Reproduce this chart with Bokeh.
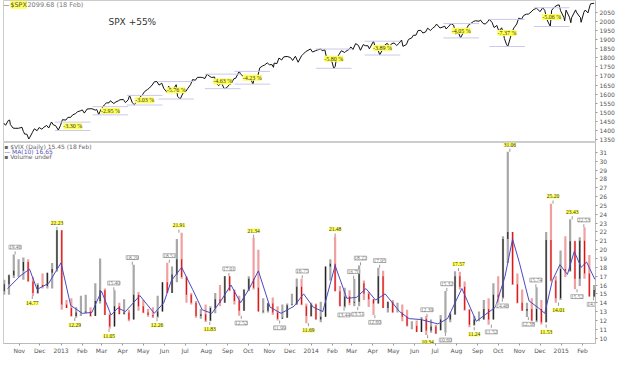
import pandas as pd
from bokeh.plotting import figure
from bokeh.layouts import column
from bokeh.models import ColumnDataSource, Range1d, FixedTicker, Label, LabelSet
from bokeh.embed import file_html
from bokeh.resources import INLINE

# ---------------- SPX (approximate closes) ----------------
spx_dates = ["2012-10-09","2012-10-12","2012-10-16","2012-10-18","2012-10-19","2012-10-23","2012-10-26","2012-10-31",
"2012-11-02","2012-11-05","2012-11-07","2012-11-09","2012-11-12","2012-11-15","2012-11-16","2012-11-20","2012-11-23",
"2012-11-27","2012-11-30","2012-12-04","2012-12-07","2012-12-11","2012-12-14","2012-12-18","2012-12-21","2012-12-24",
"2012-12-28","2012-12-31","2013-01-03","2013-01-08","2013-01-11","2013-01-15","2013-01-18","2013-01-22","2013-01-25",
"2013-01-29","2013-02-01","2013-02-04","2013-02-08","2013-02-12","2013-02-15","2013-02-20","2013-02-22","2013-02-25",
"2013-02-28","2013-03-05","2013-03-08","2013-03-12","2013-03-14","2013-03-19","2013-03-22","2013-03-26","2013-03-28",
"2013-04-02","2013-04-05","2013-04-09","2013-04-11","2013-04-15","2013-04-18","2013-04-22","2013-04-26","2013-04-30",
"2013-05-03","2013-05-07","2013-05-10","2013-05-14","2013-05-17","2013-05-21","2013-05-24","2013-05-28","2013-05-31",
"2013-06-05","2013-06-07","2013-06-11","2013-06-14","2013-06-18","2013-06-20","2013-06-24","2013-06-28","2013-07-02",
"2013-07-05","2013-07-09","2013-07-12","2013-07-16","2013-07-19","2013-07-23","2013-07-26","2013-07-30","2013-08-02",
"2013-08-06","2013-08-09","2013-08-13","2013-08-15","2013-08-19","2013-08-23","2013-08-27","2013-08-30","2013-09-04",
"2013-09-06","2013-09-10","2013-09-13","2013-09-18","2013-09-20","2013-09-24","2013-09-27","2013-10-01","2013-10-04",
"2013-10-08","2013-10-11","2013-10-15","2013-10-18","2013-10-22","2013-10-25","2013-10-29","2013-11-01","2013-11-05",
"2013-11-07","2013-11-08","2013-11-12","2013-11-15","2013-11-19","2013-11-22","2013-11-27","2013-12-02","2013-12-05",
"2013-12-09","2013-12-13","2013-12-18","2013-12-20","2013-12-24","2013-12-31","2014-01-03","2014-01-07","2014-01-10",
"2014-01-15","2014-01-17","2014-01-21","2014-01-24","2014-01-28","2014-01-31","2014-02-03","2014-02-05","2014-02-07",
"2014-02-11","2014-02-14","2014-02-19","2014-02-21","2014-02-25","2014-02-28","2014-03-03","2014-03-07","2014-03-11",
"2014-03-14","2014-03-18","2014-03-21","2014-03-25","2014-03-27","2014-04-02","2014-04-04","2014-04-08","2014-04-11",
"2014-04-15","2014-04-17","2014-04-22","2014-04-25","2014-04-29","2014-05-02","2014-05-06","2014-05-09","2014-05-13",
"2014-05-15","2014-05-20","2014-05-23","2014-05-28","2014-05-30","2014-06-03","2014-06-06","2014-06-10","2014-06-13",
"2014-06-17","2014-06-20","2014-06-24","2014-06-27","2014-07-01","2014-07-03","2014-07-08","2014-07-11","2014-07-15",
"2014-07-17","2014-07-21","2014-07-24","2014-07-28","2014-07-31","2014-08-04","2014-08-07","2014-08-11","2014-08-15",
"2014-08-19","2014-08-22","2014-08-26","2014-08-29","2014-09-03","2014-09-05","2014-09-09","2014-09-12","2014-09-16",
"2014-09-18","2014-09-22","2014-09-25","2014-09-29","2014-10-02","2014-10-06","2014-10-09","2014-10-10","2014-10-13",
"2014-10-15","2014-10-17","2014-10-21","2014-10-24","2014-10-28","2014-10-31","2014-11-04","2014-11-07","2014-11-11",
"2014-11-14","2014-11-18","2014-11-21","2014-11-26","2014-12-01","2014-12-05","2014-12-08","2014-12-10","2014-12-12",
"2014-12-16","2014-12-18","2014-12-22","2014-12-26","2014-12-29","2014-12-31","2015-01-05","2015-01-06","2015-01-08",
"2015-01-13","2015-01-15","2015-01-16","2015-01-22","2015-01-23","2015-01-27","2015-01-29","2015-01-30","2015-02-03",
"2015-02-05","2015-02-09","2015-02-12","2015-02-13","2015-02-18"]
spx_close = [1441.5,1428.6,1454.9,1457.3,1433.2,1413.1,1411.9,1412.2,
1414.2,1417.3,1394.5,1379.9,1380.0,1353.3,1359.9,1387.8,1409.2,
1398.9,1416.2,1407.0,1418.1,1427.8,1413.6,1446.8,1430.2,1426.7,
1402.4,1426.2,1459.4,1457.2,1472.1,1472.3,1485.9,1492.6,1502.9,
1507.8,1513.2,1495.7,1517.9,1519.4,1519.8,1511.9,1515.6,1487.9,
1514.7,1540.0,1551.2,1552.5,1563.2,1548.3,1556.9,1563.8,1569.2,
1570.3,1553.3,1568.6,1593.4,1552.4,1541.6,1562.5,1582.2,1597.6,
1614.4,1625.0,1633.7,1650.3,1667.5,1669.2,1649.6,1660.1,1630.7,
1608.9,1643.4,1626.1,1626.7,1651.8,1588.2,1573.1,1606.3,1614.1,
1631.9,1652.3,1680.2,1676.3,1692.1,1692.4,1691.7,1685.9,1709.7,
1697.4,1691.4,1694.2,1661.3,1646.1,1663.5,1630.5,1633.0,1653.1,
1655.2,1683.9,1687.9,1725.5,1709.9,1697.4,1691.8,1695.0,1690.5,
1655.5,1703.2,1698.1,1744.5,1754.7,1759.8,1771.9,1761.6,1762.1,
1747.2,1770.6,1767.7,1798.2,1787.9,1804.8,1807.2,1800.9,1785.0,
1808.4,1775.3,1810.7,1818.3,1833.3,1848.4,1831.4,1837.9,1842.4,
1848.4,1838.7,1843.8,1790.3,1792.5,1782.6,1741.9,1751.6,1797.0,
1819.8,1838.6,1828.8,1836.3,1845.1,1859.5,1845.7,1878.0,1867.6,
1841.1,1872.3,1866.5,1865.6,1849.0,1890.9,1865.1,1851.9,1815.7,
1842.9,1864.9,1879.6,1863.4,1878.3,1881.1,1867.7,1878.5,1897.5,
1862.8,1872.8,1900.5,1909.8,1923.6,1924.2,1949.4,1950.8,1936.2,
1941.9,1962.9,1949.9,1960.9,1973.3,1985.4,1963.7,1967.6,1973.3,
1958.1,1973.6,1987.9,1978.9,1930.7,1938.9,1909.6,1936.9,1955.1,
1981.6,1988.4,2000.0,2003.4,2000.7,2007.7,1988.4,1985.5,1998.9,
2011.4,1994.3,1966.0,1977.8,1946.2,1964.8,1928.2,1906.1,1874.7,
1862.5,1886.8,1941.3,1964.6,1985.1,2018.1,2012.1,2031.9,2039.7,
2039.8,2051.8,2063.5,2072.8,2053.4,2075.4,2060.3,2026.1,2002.3,
1972.7,2061.2,2078.5,2088.8,2090.6,2058.9,2020.6,2002.6,2062.1,
2023.0,1992.7,2019.4,2063.2,2051.8,2029.6,2021.3,1995.0,2050.0,
2062.5,2046.7,2088.5,2097.0,2099.7]

spx_ticks = [1350,1400,1450,1500,1550,1600,1650,1700,1750,1800,1850,1900,1950,2000,2050]

# drawdown annotations: label, label date, peak, trough
dd_label = ["-3.30 %","-2.95 %","-3.03 %","-5.76 %","-4.63 %","-4.23 %","-5.80 %","-3.89 %","-4.05 %","-7.37 %","-5.06 %"]
dd_date = ["2013-01-18","2013-03-14","2013-05-03","2013-06-18","2013-08-25","2013-10-07","2014-02-03","2014-04-15",
           "2014-08-08","2014-10-14","2014-12-18"]
dd_peak = [1446,1531,1593,1669,1710,1725,1848,1891,1988,2011,2075]
dd_trough = [1400,1486,1540,1573,1630,1655,1742,1815,1909,1862,1972]

# ---------------- VIX weekly OHLC ----------------
vix_week = ["2012-10-08","2012-10-15","2012-10-22","2012-10-29","2012-11-05","2012-11-12","2012-11-19","2012-11-26",
"2012-12-03","2012-12-10","2012-12-17","2012-12-24","2012-12-31","2013-01-07","2013-01-14","2013-01-21","2013-01-28",
"2013-02-04","2013-02-11","2013-02-18","2013-02-25","2013-03-04","2013-03-11","2013-03-18","2013-03-25","2013-04-01",
"2013-04-08","2013-04-15","2013-04-22","2013-04-29","2013-05-06","2013-05-13","2013-05-20","2013-05-27","2013-06-03",
"2013-06-10","2013-06-17","2013-06-24","2013-07-01","2013-07-08","2013-07-15","2013-07-22","2013-07-29","2013-08-05",
"2013-08-12","2013-08-19","2013-08-26","2013-09-02","2013-09-09","2013-09-16","2013-09-23","2013-09-30","2013-10-07",
"2013-10-14","2013-10-21","2013-10-28","2013-11-04","2013-11-11","2013-11-18","2013-11-25","2013-12-02","2013-12-09",
"2013-12-16","2013-12-23","2013-12-30","2014-01-06","2014-01-13","2014-01-20","2014-01-27","2014-02-03","2014-02-10",
"2014-02-17","2014-02-24","2014-03-03","2014-03-10","2014-03-17","2014-03-24","2014-03-31","2014-04-07","2014-04-14",
"2014-04-21","2014-04-28","2014-05-05","2014-05-12","2014-05-19","2014-05-26","2014-06-02","2014-06-09","2014-06-16",
"2014-06-23","2014-06-30","2014-07-07","2014-07-14","2014-07-21","2014-07-28","2014-08-04","2014-08-11","2014-08-18",
"2014-08-25","2014-09-01","2014-09-08","2014-09-15","2014-09-22","2014-09-29","2014-10-06","2014-10-13","2014-10-20",
"2014-10-27","2014-11-03","2014-11-10","2014-11-17","2014-11-24","2014-12-01","2014-12-08","2014-12-15","2014-12-22",
"2014-12-29","2015-01-05","2015-01-12","2015-01-19","2015-01-26","2015-02-02","2015-02-09","2015-02-16"]
vix_open = [15.3,16.1,17.1,17.6,17.6,18.6,16.4,15.1,16.0,15.9,17.4,17.8,22.2,13.8,13.4,12.5,12.9,12.9,13.0,12.5,14.2,15.4,
12.6,11.3,13.6,12.7,12.9,12.1,14.9,13.6,12.9,12.6,12.45,13.0,16.3,15.1,17.2,18.9,16.9,14.9,14.0,12.5,12.7,12.0,13.4,14.4,
14.0,17.0,15.4,14.2,13.1,15.5,16.7,15.7,13.0,13.1,13.9,12.9,12.2,12.3,13.7,13.8,15.8,13.6,12.5,13.8,12.1,12.4,18.1,18.4,
15.3,13.6,14.7,14.0,14.1,16.2,15.0,14.4,13.9,17.0,13.4,14.1,12.9,12.9,12.4,11.4,11.4,10.7,12.2,10.85,11.3,10.9,12.1,12.1,
12.7,17.0,15.8,13.2,11.5,12.1,12.1,13.3,12.1,14.9,14.6,21.2,22.0,16.1,14.0,13.1,13.3,12.0,13.3,11.8,21.1,16.5,14.5,17.8,
17.6,20.95,16.7,21.0,17.3,14.7]
vix_high = [16.6,17.2,19.46,18.9,19.1,18.9,16.9,16.2,17.3,17.4,18.5,22.23,22.2,14.3,14.5,13.5,14.8,14.9,13.5,16.2,18.99,15.6,
12.8,15.40,14.0,14.4,13.2,18.29,15.2,14.3,13.3,13.5,14.8,16.3,18.51,18.1,21.2,21.91,17.0,15.1,14.2,13.3,13.8,13.6,15.1,16.0,
17.01,17.0,15.5,14.8,15.5,17.0,21.34,20.0,14.5,14.0,14.6,13.6,13.8,13.9,15.0,16.75,16.7,13.9,14.0,13.9,14.1,18.1,18.9,21.48,
15.9,15.7,15.4,16.70,18.22,16.5,15.2,14.4,17.95,17.6,14.1,14.3,14.0,13.8,13.2,11.9,12.0,12.39,12.5,12.1,11.5,12.6,15.32,12.9,
17.57,17.5,16.4,13.3,12.5,13.0,14.3,14.5,16.2,17.0,21.5,31.06,22.0,17.3,15.5,14.0,14.5,15.74,14.3,22.0,25.20,17.0,19.9,21.5,
23.43,21.0,21.4,22.53,19.4,16.0]
vix_low = [14.9,14.9,16.8,16.9,16.6,16.4,14.77,15.0,15.6,15.6,15.6,17.5,13.2,13.4,12.4,12.29,12.5,12.8,12.4,12.5,13.9,12.6,
11.05,11.3,12.7,12.7,11.9,12.1,13.1,12.8,12.4,12.26,12.3,13.0,15.1,15.1,16.3,16.7,14.0,13.8,12.3,12.2,11.83,11.9,12.8,13.6,
14.0,15.3,13.8,12.52,13.1,15.3,15.5,13.0,12.8,12.9,12.6,11.99,12.2,12.3,13.7,13.8,13.7,11.69,12.4,12.1,11.8,12.4,16.5,15.3,
13.6,13.44,13.7,13.6,13.6,14.3,13.51,12.60,13.9,13.4,12.9,12.9,12.9,11.9,11.3,11.0,10.7,10.7,10.34,10.6,10.5,10.9,10.6,11.8,
12.6,15.5,13.1,11.24,11.4,11.9,12.1,11.52,12.1,14.0,14.46,18.5,16.0,13.9,13.1,12.38,11.9,11.8,11.53,11.8,16.4,14.01,14.3,16.9,
17.5,15.52,15.9,16.7,14.7,14.63]
vix_close = [16.1,17.1,17.6,17.6,18.6,16.4,15.1,16.0,15.9,17.4,17.8,22.2,13.8,13.4,12.5,12.9,12.9,13.0,12.5,14.2,15.4,12.6,
11.3,13.6,12.7,12.9,12.1,14.9,13.6,12.9,12.6,12.45,13.0,16.3,15.1,17.2,18.9,16.9,14.9,14.0,12.5,12.7,12.0,13.4,14.4,14.0,
17.0,15.4,14.2,13.1,15.5,16.7,15.7,13.0,13.1,13.9,12.9,12.2,12.3,13.7,13.8,15.8,13.8,12.5,13.8,12.1,12.4,18.1,18.4,15.3,
13.6,14.7,14.0,14.1,17.8,15.0,14.4,13.9,17.0,13.4,14.1,12.9,12.9,12.4,11.4,11.4,10.7,12.2,10.85,11.3,10.5,12.1,12.1,12.7,
17.0,15.8,13.2,11.5,12.1,12.1,13.3,12.1,14.9,14.6,21.2,22.0,16.1,14.0,13.1,13.3,12.0,13.3,11.8,21.1,16.5,14.5,17.8,17.6,
20.95,16.7,21.0,17.3,14.7,15.45]

# MA line
ma_dates = ["2012-10-15","2012-11-02","2012-11-16","2012-11-27","2012-12-14","2012-12-24","2013-01-01","2013-01-15",
"2013-02-01","2013-02-15","2013-03-01","2013-03-15","2013-03-25","2013-04-05","2013-04-26","2013-05-17","2013-05-31",
"2013-06-11","2013-06-26","2013-07-12","2013-07-26","2013-08-09","2013-08-23","2013-09-06","2013-09-20","2013-10-02",
"2013-10-16","2013-11-02","2013-11-18","2013-12-07","2013-12-21","2014-01-04","2014-01-18","2014-02-05","2014-02-22",
"2014-03-08","2014-03-22","2014-04-05","2014-04-19","2014-05-10","2014-05-24","2014-06-10","2014-07-05","2014-07-19",
"2014-08-09","2014-08-30","2014-09-13","2014-09-27","2014-10-11","2014-10-22","2014-11-01","2014-11-15","2014-11-29",
"2014-12-08","2014-12-19","2014-12-30","2015-01-10","2015-01-20","2015-01-30","2015-02-07","2015-02-19"]
ma_vals = [15.6,17.0,17.8,15.5,16.2,17.5,18.5,13.7,12.8,12.9,15.3,12.6,13.4,13.0,14.8,12.8,14.0,16.5,18.0,15.5,13.2,12.8,
14.3,16.0,14.0,15.5,17.6,13.5,12.8,13.6,15.0,13.5,13.0,18.2,14.5,14.6,15.6,14.3,15.0,13.0,12.2,12.1,11.6,12.2,15.6,11.9,
12.7,13.5,17.0,21.2,18.5,14.2,13.4,12.8,16.5,18.3,17.2,19.8,18.0,18.6,16.65]

vix_ticks = list(range(10, 32))

# VIX extreme annotations
vix_lab_val = [19.46,14.77,22.23,12.29,11.05,15.40,18.29,12.26,18.51,21.91,11.83,17.01,12.52,21.34,11.99,16.75,11.69,
21.48,13.44,16.70,13.51,18.22,12.60,17.95,12.39,10.34,15.32,10.60,17.57,11.24,11.52,14.46,31.06,12.38,15.74,11.53,
25.20,14.01,23.43,15.52,22.53,14.63]
vix_lab_date = ["2012-10-26","2012-11-20","2012-12-26","2013-01-21","2013-03-12","2013-03-19","2013-04-15","2013-05-21",
"2013-06-08","2013-06-22","2013-08-06","2013-09-03","2013-09-21","2013-10-09","2013-11-16","2013-12-19","2013-12-28",
"2014-02-05","2014-02-18","2014-03-04","2014-03-10","2014-03-14","2014-04-04","2014-04-11","2014-06-19","2014-06-20",
"2014-07-18","2014-07-16","2014-08-04","2014-08-27","2014-09-21","2014-10-07","2014-10-18","2014-11-14","2014-11-25",
"2014-12-10","2014-12-20","2014-12-28","2015-01-17","2015-01-24","2015-02-03","2015-02-17"]
vix_lab_hl = ["hi","lo","hi","lo","lo","hi","hi","lo","hi","hi","lo","hi","lo","hi","lo","hi","lo","hi","lo","hi","lo","hi",
"lo","hi","hi","lo","hi","lo","hi","lo","lo","lo","hi","lo","hi","lo","hi","lo","hi","lo","hi","lo"]
vix_lab_yellow = [0,1,1,1,1,0,0,1,0,1,1,0,0,1,0,0,1,1,0,0,0,0,0,0,0,1,0,0,1,1,0,0,1,0,0,1,1,1,1,0,0,0]

month_ticks = ["2012-11-01","2012-12-01","2013-01-01","2013-02-01","2013-03-01","2013-04-01","2013-05-01","2013-06-01",
"2013-07-01","2013-08-01","2013-09-01","2013-10-01","2013-11-01","2013-12-01","2014-01-01","2014-02-01","2014-03-01",
"2014-04-01","2014-05-01","2014-06-01","2014-07-01","2014-08-01","2014-09-01","2014-10-01","2014-11-01","2014-12-01",
"2015-01-01","2015-02-01"]
month_labels = ["Nov","Dec","2013","Feb","Mar","Apr","May","Jun","Jul","Aug","Sep","Oct","Nov","Dec","2014","Feb","Mar",
"Apr","May","Jun","Jul","Aug","Sep","Oct","Nov","Dec","2015","Feb"]

# ---------------- figure setup ----------------
FONT = "DejaVu Sans"
x0 = pd.Timestamp("2012-10-09")
x1 = pd.Timestamp("2015-02-20")
xr = Range1d(start=x0, end=x1)
DAY = 86400000.0
FW = 592
RB = 29

def style_axis(ax):
    ax.axis_line_color = "#bbbbbb"
    ax.major_tick_line_color = "#999999"
    ax.major_tick_out = 2
    ax.major_tick_in = 0
    ax.minor_tick_line_color = None
    ax.major_label_text_font = FONT
    ax.major_label_text_font_size = "6px"
    ax.major_label_text_color = "#555555"
    ax.major_label_standoff = 2

p1 = figure(frame_width=FW, frame_height=142, x_axis_type="datetime", x_range=xr,
            y_range=Range1d(1333.9, 2114.9), x_axis_location=None, y_axis_location="right",
            output_backend="svg", toolbar_location=None, min_border_left=3, min_border_right=RB,
            min_border_top=0, min_border_bottom=0)
p1.grid.visible = False
p1.outline_line_color = "#cccccc"
p1.yaxis.ticker = FixedTicker(ticks=spx_ticks)
style_axis(p1.yaxis[0])

spx_x = pd.to_datetime(spx_dates)
p1.line(spx_x, spx_close, line_color="#111111", line_width=1)

dd_x = pd.to_datetime(dd_date)
span = pd.Timedelta(days=26)
p1.segment(x0=dd_x - span, x1=dd_x + span, y0=dd_peak, y1=dd_peak, line_color="#c9c9ec", line_width=1)
p1.segment(x0=dd_x - span, x1=dd_x + span, y0=dd_trough, y1=dd_trough, line_color="#c9c9ec", line_width=1)
dd_src = ColumnDataSource(dict(x=dd_x, y=[(a + b) / 2 for a, b in zip(dd_peak, dd_trough)], t=dd_label))
p1.add_layout(LabelSet(x="x", y="y", text="t", source=dd_src, text_align="center", text_baseline="middle",
                       text_font=FONT, text_font_size="6px", text_color="#333333",
                       background_fill_color="#ffff55"))

p1.add_layout(Label(x=pd.Timestamp("2013-04-15"), y=1999, text="SPX +55%", text_align="center",
                    text_baseline="middle", text_font=FONT, text_font_size="9px", text_color="#333333"))
p1.add_layout(Label(x=pd.Timestamp("2012-10-09"), y=2092, text="\u2014", text_align="left", text_baseline="middle",
                    text_font=FONT, text_font_size="6px", text_color="#333333"))
p1.add_layout(Label(x=pd.Timestamp("2012-10-19"), y=2092, text="$SPX", text_align="left", text_baseline="middle",
                    text_font=FONT, text_font_size="6.5px", text_color="#555555", background_fill_color="#ffff55"))
p1.add_layout(Label(x=pd.Timestamp("2012-11-13"), y=2092, text="2099.68 (18 Feb)", text_align="left",
                    text_baseline="middle", text_font=FONT, text_font_size="6.5px", text_color="#777777"))
p1.add_layout(Label(x=pd.Timestamp("2015-02-21"), y=2092, text="2099.68", text_align="left", text_baseline="middle",
                    text_font=FONT, text_font_size="5.5px", text_color="#333333", background_fill_color="white",
                    border_line_color="#888888"))

p2 = figure(frame_width=FW, frame_height=201, x_axis_type="datetime", x_range=xr,
            y_range=Range1d(9.39, 32.11), y_axis_location="right",
            output_backend="svg", toolbar_location=None, min_border_left=3, min_border_right=RB,
            min_border_top=0, min_border_bottom=0)
p2.grid.visible = False
p2.outline_line_color = "#cccccc"
p2.yaxis.ticker = FixedTicker(ticks=vix_ticks)
style_axis(p2.yaxis[0])
tick_ms = [pd.Timestamp(d).value / 1e6 for d in month_ticks]
p2.xaxis.ticker = FixedTicker(ticks=tick_ms)
p2.xaxis.major_label_overrides = {t: l for t, l in zip(tick_ms, month_labels)}
style_axis(p2.xaxis[0])
p2.xaxis.major_label_standoff = 1
p2.xaxis.major_tick_out = 2

vx = pd.to_datetime(vix_week) + pd.Timedelta(days=2)
up = [c >= o for o, c in zip(vix_open, vix_close)]
vsrc = ColumnDataSource(dict(
    x=vx, hi=vix_high, lo=vix_low,
    top=[max(o, c) for o, c in zip(vix_open, vix_close)],
    bot=[min(o, c) for o, c in zip(vix_open, vix_close)],
    wick=["#a8a8a8" if u else "#f0a0a0" for u in up],
    body=["#222222" if u else "#dd1111" for u in up]))
p2.segment(x0="x", x1="x", y0="lo", y1="hi", line_color="wick", line_width=2.2, source=vsrc)
p2.vbar(x="x", width=1.6 * DAY, top="top", bottom="bot", fill_color="body", line_color=None, source=vsrc)

p2.line(pd.to_datetime(ma_dates), ma_vals, line_color="#4a4ac0", line_width=1)

lab_x = pd.to_datetime(vix_lab_date)
lab_y = [v + 0.82 if h == "hi" else v - 0.82 for v, h in zip(vix_lab_val, vix_lab_hl)]
con_y = [v + 0.35 if h == "hi" else v - 0.35 for v, h in zip(vix_lab_val, vix_lab_hl)]
p2.segment(x0=lab_x, x1=lab_x, y0=vix_lab_val, y1=con_y, line_color="#999999", line_width=1)
ysel = [i for i, f in enumerate(vix_lab_yellow) if f]
gsel = [i for i, f in enumerate(vix_lab_yellow) if not f]
ysrc = ColumnDataSource(dict(x=[lab_x[i] for i in ysel], y=[lab_y[i] for i in ysel],
                             t=["%.2f" % vix_lab_val[i] for i in ysel]))
gsrc = ColumnDataSource(dict(x=[lab_x[i] for i in gsel], y=[lab_y[i] for i in gsel],
                             t=["%.2f" % vix_lab_val[i] for i in gsel]))
p2.add_layout(LabelSet(x="x", y="y", text="t", source=gsrc, text_align="center", text_baseline="middle",
                       text_font=FONT, text_font_size="5.5px", text_color="#777777",
                       background_fill_color="white", border_line_color="#bbbbbb"))
p2.add_layout(LabelSet(x="x", y="y", text="t", source=ysrc, text_align="center", text_baseline="middle",
                       text_font=FONT, text_font_size="5.5px", text_color="#333333",
                       background_fill_color="#ffff55"))

p2.add_layout(Label(x=pd.Timestamp("2012-10-10"), y=31.68, text="\u25aa $VIX (Daily) 15.45 (18 Feb)", text_align="left",
                    text_baseline="middle", text_font=FONT, text_font_size="6px", text_color="#666666"))
p2.add_layout(Label(x=pd.Timestamp("2012-10-10"), y=31.12, text="\u2014 MA(10) 16.65", text_align="left",
                    text_baseline="middle", text_font=FONT, text_font_size="6px", text_color="#5555bb"))
p2.add_layout(Label(x=pd.Timestamp("2012-10-10"), y=30.56, text="\u25aa Volume undef", text_align="left",
                    text_baseline="middle", text_font=FONT, text_font_size="6px", text_color="#666666"))
p2.add_layout(Label(x=pd.Timestamp("2015-02-21"), y=16.69, text="16.65", text_align="left", text_baseline="middle",
                    text_font=FONT, text_font_size="6px", text_color="#4444aa", background_fill_color="white",
                    border_line_color="#6666cc"))
p2.add_layout(Label(x=pd.Timestamp("2015-02-21"), y=15.45, text="15.45", text_align="left", text_baseline="middle",
                    text_font=FONT, text_font_size="6px", text_color="#111111", background_fill_color="white",
                    border_line_color="#111111"))

layout = column(p1, p2, spacing=0)
open("out.html", "w").write(file_html(layout, INLINE))
